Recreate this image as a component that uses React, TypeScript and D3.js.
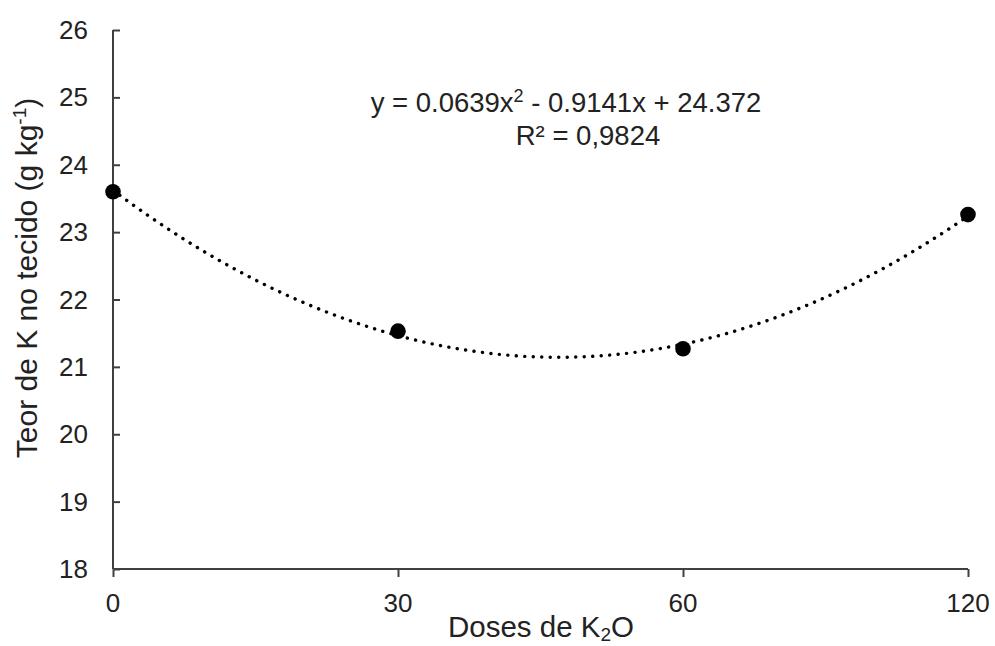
import { useEffect, useRef } from "react";
import * as d3 from "d3";

const doses = ["0", "30", "60", "120"];
const teorK = [23.6, 21.53, 21.27, 23.26];
const yTicks = [18, 19, 20, 21, 22, 23, 24, 25, 26];
const equationText = "y = 0.0639x";
const equationRest = " - 0.9141x + 24.372";
const r2Text = "R² = 0,9824";

// least squares quadratic on category index (like Excel's trendline)
function fitQuadratic(ys: number[]) {
  const xs = ys.map((_, i) => i);
  const S = (f: (x: number, y: number) => number) =>
    d3.sum(xs, (x, i) => f(x, ys[i]));
  const n = xs.length;
  const sx = S((x) => x), sx2 = S((x) => x * x), sx3 = S((x) => x ** 3), sx4 = S((x) => x ** 4);
  const sy = S((_, y) => y), sxy = S((x, y) => x * y), sx2y = S((x, y) => x * x * y);
  // solve 3x3 with Cramer
  const det = (m: number[][]) =>
    m[0][0] * (m[1][1] * m[2][2] - m[1][2] * m[2][1]) -
    m[0][1] * (m[1][0] * m[2][2] - m[1][2] * m[2][0]) +
    m[0][2] * (m[1][0] * m[2][1] - m[1][1] * m[2][0]);
  const A = [
    [n, sx, sx2],
    [sx, sx2, sx3],
    [sx2, sx3, sx4],
  ];
  const b = [sy, sxy, sx2y];
  const D = det(A);
  const coef = [0, 1, 2].map((k) =>
    det(A.map((row, r) => row.map((v, c) => (c === k ? b[r] : v)))) / D
  );
  return (x: number) => coef[0] + coef[1] * x + coef[2] * x * x;
}

const App = () => {
  const svgRef = useRef<SVGSVGElement>(null);
  const width = 995;
  const height = 646;

  useEffect(() => {
    const svg = d3.select(svgRef.current);
    svg.selectAll("*").remove();
    const font = "'Liberation Sans', Arial, sans-serif";
    const axisColor = "#404040";

    const margin = { top: 30, right: 27, bottom: 77, left: 113 };
    const innerW = width - margin.left - margin.right;
    const innerH = height - margin.top - margin.bottom;

    const x = d3.scalePoint().domain(doses).range([0, innerW]).padding(0);
    const y = d3.scaleLinear().domain([18, 26]).range([innerH, 0]);

    const g = svg
      .append("g")
      .attr("transform", `translate(${margin.left},${margin.top})`);

    // y axis
    const yAxis = g.append("g").call(
      d3.axisRight(y).tickValues(yTicks).tickSize(7).tickFormat(() => "")
    );
    yAxis.select(".domain").remove();
    yAxis.selectAll("line").attr("stroke", axisColor).attr("stroke-width", 2);
    g.append("line")
      .attr("x1", 0).attr("x2", 0).attr("y1", 0).attr("y2", innerH)
      .attr("stroke", axisColor).attr("stroke-width", 2);
    g.selectAll(".ylab")
      .data(yTicks)
      .join("text")
      .attr("x", -25)
      .attr("y", (d) => y(d) + 9)
      .attr("text-anchor", "end")
      .attr("font-family", font)
      .attr("font-size", 26)
      .attr("fill", "#222")
      .text((d) => d);

    // x axis
    const xAxis = g
      .append("g")
      .attr("transform", `translate(0,${innerH})`)
      .call(d3.axisBottom(x).tickSize(8).tickFormat(() => ""));
    xAxis.select(".domain").remove();
    xAxis.selectAll("line").attr("stroke", axisColor).attr("stroke-width", 2);
    g.append("line")
      .attr("x1", 0).attr("x2", innerW).attr("y1", innerH).attr("y2", innerH)
      .attr("stroke", axisColor).attr("stroke-width", 2);
    g.selectAll(".xlab")
      .data(doses)
      .join("text")
      .attr("x", (d) => x(d)!)
      .attr("y", innerH + 43)
      .attr("text-anchor", "middle")
      .attr("font-family", font)
      .attr("font-size", 26)
      .attr("fill", "#222")
      .text((d) => d);

    // trendline
    const f = fitQuadratic(teorK);
    const step = x.step();
    const curvePts = d3.range(0, doses.length - 1 + 0.001, 0.02).map((t) => [
      t * step,
      y(f(t)),
    ]);
    g.append("path")
      .attr("d", d3.line().curve(d3.curveLinear)(curvePts as [number, number][]))
      .attr("fill", "none")
      .attr("stroke", "#000")
      .attr("stroke-width", 3.4)
      .attr("stroke-linecap", "round")
      .attr("stroke-dasharray", "0.1 8.4");

    // points
    g.selectAll(".pt")
      .data(teorK)
      .join("circle")
      .attr("cx", (_, i) => x(doses[i])!)
      .attr("cy", (d) => y(d))
      .attr("r", 7.8)
      .attr("fill", "#000");

    // equation
    const eq = svg
      .append("text")
      .attr("x", 566)
      .attr("y", 112)
      .attr("text-anchor", "middle")
      .attr("font-family", font)
      .attr("font-size", 27.5)
      .attr("fill", "#222");
    eq.append("tspan").text(equationText);
    eq.append("tspan").attr("font-size", 18).attr("dy", -10).text("2");
    eq.append("tspan").attr("dy", 10).text(equationRest);
    svg
      .append("text")
      .attr("x", 588)
      .attr("y", 145)
      .attr("text-anchor", "middle")
      .attr("font-family", font)
      .attr("font-size", 27.5)
      .attr("fill", "#222")
      .text(r2Text);

    // axis titles
    const xt = svg
      .append("text")
      .attr("x", 541)
      .attr("y", 637)
      .attr("text-anchor", "middle")
      .attr("font-family", font)
      .attr("font-size", 29.5)
      .attr("fill", "#222");
    xt.append("tspan").text("Doses de K");
    xt.append("tspan").attr("font-size", 19).attr("dy", 4).text("2");
    xt.append("tspan").attr("dy", -4).text("O");

    const yt = svg
      .append("text")
      .attr("transform", `translate(37,278) rotate(-90)`)
      .attr("text-anchor", "middle")
      .attr("font-family", font)
      .attr("font-size", 30)
      .attr("fill", "#222");
    yt.append("tspan").text("Teor de K no tecido (g kg");
    yt.append("tspan").attr("font-size", 19).attr("dy", -11).text("-1");
    yt.append("tspan").attr("dy", 11).text(")");
  }, []);

  return (
    <svg
      ref={svgRef}
      width={width}
      height={height}
      style={{ position: "absolute", left: 0, top: 0, background: "#fff" }}
    />
  );
};

export default App;
